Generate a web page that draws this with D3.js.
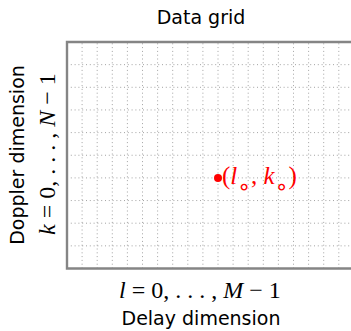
<!DOCTYPE html>
<html>
<head>
<meta charset="utf-8">
<script src="https://cdn.jsdelivr.net/npm/d3@7"></script>
<style>
  body { margin: 0; background: #fff; }
  .sans { font-family: "DejaVu Sans", sans-serif; }
  .math { font-family: "Liberation Serif", serif; }
</style>
</head>
<body>
<div id="grid_chart"></div>
<script>
// delay / doppler grid
var delayBins = [0, 1, 2, 3, 4, 5, 6, 7, 8, 9, 10, 11, 12, 13, 14, 15, 16, 17, 18, 19, 20];
var dopplerBins = [0, 1, 2, 3, 4, 5, 6, 7, 8, 9, 10];
var markL = [10];
var markK = [4];

var grid_width = 351, grid_height = 331;
var grid_margin = { top: 42, left: 67, bottom: 62.5 };
var cell_w = 15.1;

var svg = d3.select("#grid_chart").append("svg")
    .attr("width", grid_width)
    .attr("height", grid_height);

var x = d3.scaleLinear()
    .domain([0, delayBins[delayBins.length - 1]])
    .range([grid_margin.left, grid_margin.left + cell_w * delayBins[delayBins.length - 1]]);

var y = d3.scaleLinear()
    .domain([0, dopplerBins[dopplerBins.length - 1]])
    .range([grid_height - grid_margin.bottom, grid_margin.top]);

// dotted grid
svg.append("g").selectAll("line")
    .data(delayBins.slice(1, -1))
    .enter().append("line")
    .attr("x1", function (d) { return x(d); })
    .attr("x2", function (d) { return x(d); })
    .attr("y1", y(0))
    .attr("y2", y(10))
    .attr("stroke", "#8c8c8c")
    .attr("stroke-width", 0.8)
    .attr("stroke-dasharray", "1,2.8");

svg.append("g").selectAll("line")
    .data(dopplerBins.slice(1, -1))
    .enter().append("line")
    .attr("x1", x(0))
    .attr("x2", x(20))
    .attr("y1", function (d) { return y(d); })
    .attr("y2", function (d) { return y(d); })
    .attr("stroke", "#8c8c8c")
    .attr("stroke-width", 0.8)
    .attr("stroke-dasharray", "1,2.8");

// frame (right side is outside the window)
svg.append("path")
    .attr("d", "M" + x(20) + "," + y(10) + "L" + x(0) + "," + y(10) +
        "L" + x(0) + "," + y(0) + "L" + x(20) + "," + y(0))
    .attr("fill", "none")
    .attr("stroke", "#858585")
    .attr("stroke-width", 2.4)
    .attr("stroke-linejoin", "miter");

// marked cell
svg.selectAll(".mark")
    .data(markL.map(function (l, i) { return { l: l, k: markK[i] }; }))
    .enter().append("circle")
    .attr("class", "mark")
    .attr("cx", function (d) { return x(d.l); })
    .attr("cy", function (d) { return y(d.k); })
    .attr("r", 4)
    .attr("fill", "#ff0000");

var mark_label = svg.append("text")
    .attr("class", "math")
    .attr("x", x(markL[0]) + 4)
    .attr("y", y(markK[0]) + 6.5)
    .attr("font-size", "25px")
    .attr("fill", "#ff0000");
mark_label.append("tspan").text("(");
mark_label.append("tspan").attr("font-style", "italic").text("l");
mark_label.append("tspan").attr("font-family", "DejaVu Sans").attr("font-size", "22px").attr("dy", 10).text("∘");
mark_label.append("tspan").attr("dy", -10).text(", ");
mark_label.append("tspan").attr("font-style", "italic").text("k");
mark_label.append("tspan").attr("font-family", "DejaVu Sans").attr("font-size", "22px").attr("dy", 10).text("∘");
mark_label.append("tspan").attr("dy", -10).text(")");

// title
svg.append("text")
    .attr("class", "sans")
    .attr("x", 201)
    .attr("y", 24)
    .attr("font-size", "19px")
    .style("text-anchor", "middle")
    .text("Data grid");

// x labels
var xl = svg.append("text")
    .attr("class", "math")
    .attr("x", 200)
    .attr("y", 298)
    .attr("font-size", "24px")
    .style("text-anchor", "middle");
xl.append("tspan").attr("font-style", "italic").text("l");
xl.append("tspan").text(" = 0, . . . , ");
xl.append("tspan").attr("font-style", "italic").text("M");
xl.append("tspan").text(" − 1");

svg.append("text")
    .attr("class", "sans")
    .attr("x", 201)
    .attr("y", 325)
    .attr("font-size", "19px")
    .style("text-anchor", "middle")
    .text("Delay dimension");

// y labels
svg.append("text")
    .attr("class", "sans")
    .attr("transform", "translate(24,155) rotate(-90)")
    .attr("font-size", "19px")
    .style("text-anchor", "middle")
    .text("Doppler dimension");

var yl = svg.append("text")
    .attr("class", "math")
    .attr("transform", "translate(55,154) rotate(-90)")
    .attr("font-size", "24px")
    .style("text-anchor", "middle");
yl.append("tspan").attr("font-style", "italic").text("k");
yl.append("tspan").text(" = 0, . . . , ");
yl.append("tspan").attr("font-style", "italic").text("N");
yl.append("tspan").text(" − 1");
</script>
</body>
</html>
